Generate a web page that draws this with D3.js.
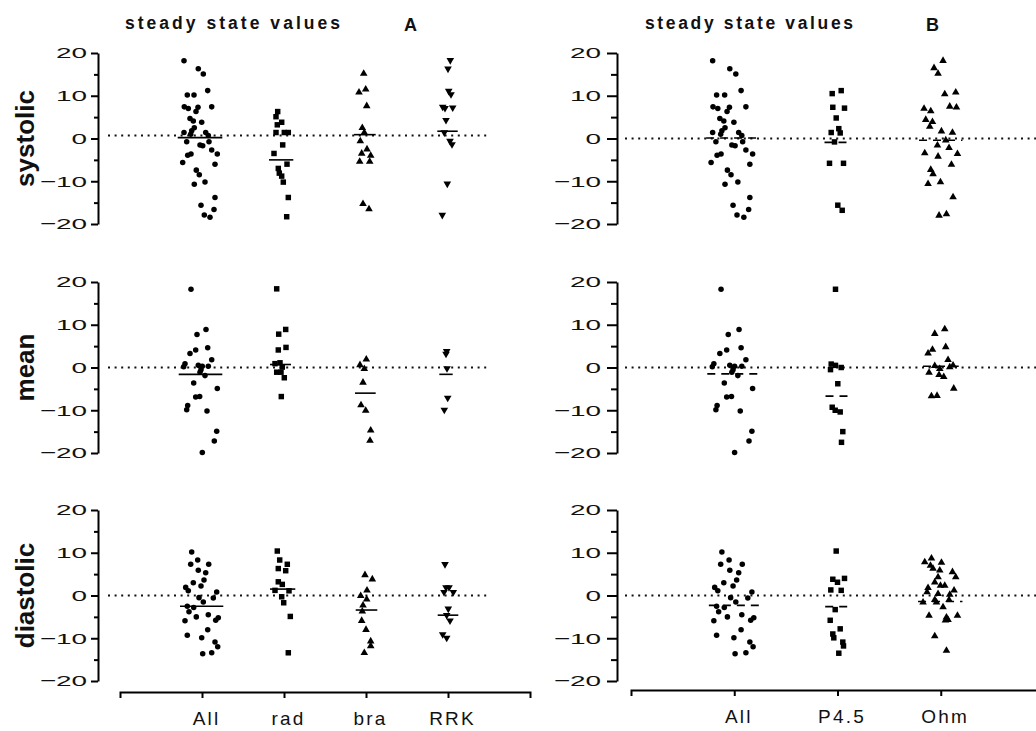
<!DOCTYPE html>
<meta charset="utf-8">
<script src="https://cdn.jsdelivr.net/npm/d3@7/dist/d3.min.js"></script>
<style>
    body { margin: 0; background: #fff; }
    svg { font-family: "Liberation Sans", Arial, sans-serif; }
</style>
<svg width="1036" height="731"></svg>
<script>

    // ---- data (value, horizontal jitter) ----
    var measures = ["systolic", "mean", "diastolic"];
    var groupsA = ["All", "rad", "bra", "RRK"];
    var groupsB = ["All", "P4.5", "Ohm"];
    var yTicks = [-20, -10, 0, 10, 20];
    var yMinor = [-15, -5, 5, 15];

    var sysAll = [[18.2,-18],[16.3,-3.7],[15.1,1.3],[11.2,5.7],[10.2,-14.7],[10.2,-8],[7.4,-17.7],[7.0,-13.7],[6.3,-6],[7.3,-4],[7.4,9.7],[4.7,-12],[4.1,-8.7],[3.8,-0.3],[2.5,-7.7],[1.8,-10.3],[1.4,-18],[1.4,3.7],[0.7,6.3],[1.0,-11.3],[-0.75,-15.3],[-1.5,-2],[-1.7,0.7],[-0.75,7],[-2.7,9.7],[-3.6,15.3],[-3.6,-11],[-3.9,-14.3],[-5.6,-19.3],[-6.0,13],[-7.4,-5.7],[-8.5,-2.7],[-10.7,-7.7],[-10.2,3],[-13.8,13],[-15.6,-1],[-16.6,12],[-17.9,2.3],[-18.4,8]];
    var sysRad = [[6.3,-6.3],[5.1,-8],[3.8,-2.3],[3.2,-6.7],[1.4,-8],[1.4,0.3],[1.4,4.3],[-1.5,-1.3],[-3.5,-10],[-6.0,3],[-7.0,-5.7],[-8.1,-4.7],[-8.8,-2.3],[-10.2,-0.7],[-13.8,4.3],[-18.3,2.7]];
    var sysBra = [[15.2,-2.3],[10.8,-7],[11.5,-0.3],[7.6,0.7],[2.5,-3.7],[1.4,-1.7],[-0.6,-5.7],[-2.5,1],[-3.5,-4.3],[-4.0,4.7],[-5.4,-6.3],[-5.4,3.7],[-15.3,-3],[-16.5,3]];
    var sysRRK = [[18.3,2.3],[16.3,0],[11.1,0.7],[10.3,3],[7.4,-5.3],[7.1,-3],[7.2,4.7],[4.3,-2],[1.4,-3.7],[-0.6,2],[-1.4,4],[-10.6,-0.7],[-17.9,-5.7]];
    var sysP45 = [[10.5,-5.3],[11.2,3.7],[7.3,-4.7],[7.1,7],[4.8,-1.3],[2.3,1.3],[1.4,-6.3],[1.3,2.7],[-0.8,-3],[-5.8,-8],[-5.8,6],[-15.6,0.3],[-16.8,4.7]];
    var sysOhm = [[18.2,2.3],[16.5,-6.7],[15.2,-2.7],[10.4,4],[10.8,15],[7.0,-16.7],[6.4,-10],[7.5,9],[7.3,15.7],[4.4,-15],[3.9,-8.3],[2.8,-11],[1.7,0.7],[1.4,11.7],[-1.6,-3.3],[-0.4,5],[-2.2,8.3],[-3.4,-16],[-4.2,-2.7],[-3.6,16.7],[-7.3,-10],[-8.3,-7.7],[-6.1,10.7],[-10.6,-12.7],[-10.2,-0.3],[-13.7,12.3],[-17.7,5.7],[-18.0,-1.7]];

    var meanAll = [[18.3,-11],[8.9,4],[7.7,-5],[4.6,5.7],[4.1,-6.3],[3.3,-12],[1.8,9.7],[0.9,-17],[0.2,-18.3],[0.5,-3.7],[0.3,0.3],[0.3,6.3],[-0.5,-1],[-1.9,3],[-1.1,-2],[-3.6,-8.3],[-4.9,15.3],[-6.9,-6.3],[-6.8,-2.3],[-8.9,-14.3],[-9.9,-15.3],[-10.2,5],[-14.9,14.7],[-17.2,12.3],[-19.9,0.3]];
    var meanRad = [[18.4,-7.3],[8.9,1.7],[7.8,-5.3],[4.7,2],[4.1,-5.7],[0.9,-9],[1.1,-4],[0.1,-1.7],[-1.1,-7.3],[-1.1,-3],[-2.4,0.3],[-6.8,-2.7]];
    var meanBra = [[1.9,0.3],[0.6,-6],[-0.3,-1.7],[-3.5,-3],[-8.8,-5],[-10.1,-0.3],[-14.7,4.7],[-17.1,4]];
    var meanRRK = [[3.8,-1.3],[3.2,-2],[-0.2,-1],[-7.1,-0.3],[-9.9,-3.7]];
    var meanP45 = [[18.3,-2],[0.8,-6.3],[0.5,-2],[0,3.7],[-0.5,-7],[-3.8,0.3],[-9.3,-5.3],[-10.0,-2.3],[-10.4,2.7],[-15.0,5.3],[-17.5,4]];
    var meanOhm = [[9.0,4],[7.9,-6],[4.8,5],[4.2,-8.3],[3.3,-12.7],[1.8,7.3],[0.4,-6],[-0.3,-1],[0.5,12.3],[0.1,9],[-1.2,-11.7],[-1.7,-1.7],[-2.2,3],[-4.9,13],[-6.7,-9.3],[-6.6,-3.7]];

    var diaAll = [[10.2,-10.3],[7.3,-11.3],[8.3,-4.3],[7.3,6.7],[5.9,-3.7],[5.3,3.7],[3.6,2],[2.2,-1],[1.9,-16.3],[3.0,-8.7],[1.1,-13.7],[0.8,14.7],[-0.6,11.3],[-0.5,-3],[-1.5,1.3],[-2.5,-14.7],[-2.8,-8.3],[-3.8,-13],[-4.5,6.3],[-5.2,16.3],[-5.0,-5.7],[-5.9,-17],[-5.8,13.7],[-8.0,5.7],[-9.3,-14.7],[-9.9,-0.3],[-10.9,13],[-12.0,15.7],[-13.6,0.7],[-13.4,9.7]];
    var diaRad = [[10.4,-6.7],[8.3,-4.3],[7.3,3.3],[6.3,-5.7],[5.8,1.7],[3.2,-5.7],[2.6,-1.7],[1.2,-9],[1.1,5],[-0.3,-2.3],[-1.7,-0.3],[-4.9,6.3],[-13.4,4.3]];
    var diaBra = [[4.8,-1],[3.8,6.3],[1.2,1],[-0.1,-5.3],[-0.9,0.7],[-2.3,-3],[-3.7,-3.7],[-5.9,-4.3],[-8.0,0],[-10.7,4.7],[-11.8,4.7],[-13.4,-1.7]];
    var diaRRK = [[7.3,-3],[1.9,-2],[1.9,1],[0.8,-4],[0.8,5.3],[-3.1,0.3],[-4.6,-1.3],[-5.9,2],[-9.1,-5.3],[-9.9,-1.3]];
    var diaP45 = [[10.4,-1.3],[3.8,-4.7],[3.1,0],[4.0,7],[1.3,-6.7],[1.2,3.7],[-3.3,-2.3],[-5.8,-7.3],[-7.8,2.7],[-9.0,-4.7],[-9.9,-3.7],[-10.9,5.3],[-11.8,6],[-13.5,1.3]];
    var diaOhm = [[8.7,-9.3],[7.8,-16],[7.7,0.7],[7.0,-10.3],[6.3,-7.7],[5.9,-1],[5.5,11.7],[4.3,15],[4.3,-2.7],[3.1,-6],[2.3,-0.3],[2.3,4],[1.8,-12.7],[0.8,-13.7],[1.2,13.3],[0.2,9],[0.4,-2.7],[-1.0,8.3],[-1.0,-6],[-1.6,-4.3],[-1.6,-17.7],[-2.7,2.3],[-4.7,-11.7],[-5.1,5.7],[-4.7,16.7],[-5.7,7.3],[-5.8,4.7],[-9.5,-6],[-12.9,5.7]];

    // group means (short horizontal bars), per measure, in group order
    var meansA = [[0.2, -5.0, 0.9, 1.7], [-1.6, 0.7, -6.0, -1.6], [-2.5, 1.5, -3.4, -4.6]];
    var meansB = [[0.1, -0.9, -0.4], [-1.5, -6.7, 0.3], [-2.3, -2.6, -1.4]];
    // dotted reference level per measure
    var refA = [0.7, 0, 0];
    var refB = [0, 0, 0];

    // ---- layout ----
    var svg = d3.select("svg");
    var rowTop = [53, 282, 510], rowH = 171;

    var panels = [
        {title: "A", groups: groupsA, axisX: 98, range: [120, 530], bottomY: 692, tick: 7, minor: 4, pad: 4,
            jit: {All: 1}, dash: null, refX: [108, 487], titleX: 125, titleW: 215, letterX: 404,
            series: [[sysAll, sysRad, sysBra, sysRRK], [meanAll, meanRad, meanBra, meanRRK], [diaAll, diaRad, diaBra, diaRRK]],
            means: meansA, ref: refA},
        {title: "B", groups: groupsB, axisX: 617, range: [631, 1044], bottomY: 690, tick: 10, minor: 6, pad: 6,
            jit: {All: 1.2}, dash: "8,6", refX: [625, 1036], titleX: 645, titleW: 208, letterX: 926,
            series: [[sysAll, sysP45, sysOhm], [meanAll, meanP45, meanOhm], [diaAll, diaP45, diaOhm]],
            means: meansB, ref: refB}
    ];

    var symbols = {
        "All": d3.symbol().type(d3.symbolCircle).size(24),
        "rad": d3.symbol().type(d3.symbolSquare).size(30),
        "P4.5": d3.symbol().type(d3.symbolSquare).size(30),
        "bra": d3.symbol().type(d3.symbolTriangle).size(25),
        "Ohm": d3.symbol().type(d3.symbolTriangle).size(25),
        "RRK": d3.symbol().type(d3.symbolTriangle).size(25)
    };

    panels.forEach(function (p) {
        var x = d3.scalePoint().domain(p.groups).range(p.range).padding(1);

        // titles
        svg.append("text")
            .attr("x", p.titleX).attr("y", 29)
            .attr("font-size", 17.5).attr("font-weight", "bold")
            .attr("fill", "#111")
            .attr("textLength", p.titleW).attr("lengthAdjust", "spacing")
            .text("steady state values");
        svg.append("text")
            .attr("x", p.letterX).attr("y", 31)
            .attr("font-size", 18).attr("font-weight", "bold")
            .attr("fill", "#111")
            .text(p.title);

        measures.forEach(function (m, mi) {
            var y = d3.scaleLinear().domain([-20, 20]).range([rowTop[mi] + rowH, rowTop[mi]]);
            var g = svg.append("g");

            // y axis, major ticks with labels
            var ax = g.append("g")
                .attr("transform", "translate(" + p.axisX + ",0)")
                .call(d3.axisLeft(y).tickValues(yTicks).tickSize(p.tick).tickSizeOuter(0).tickPadding(p.pad));
            ax.select(".domain").attr("stroke-width", 2);
            ax.selectAll(".tick line").attr("stroke-width", 2);
            ax.selectAll(".tick text")
                .attr("font-family", "'Liberation Sans', Arial, sans-serif")
                .attr("font-size", 15.5)
                .attr("fill", "#111")
                .attr("transform", function () {
                    var tx = +d3.select(this).attr("x");
                    d3.select(this).attr("x", 0);
                    return "translate(" + tx + ",0) scale(1.8,1)";
                });

            // minor ticks
            var mn = g.append("g")
                .attr("transform", "translate(" + p.axisX + ",0)")
                .call(d3.axisLeft(y).tickValues(yMinor).tickSize(p.minor).tickFormat(""));
            mn.select(".domain").remove();
            mn.selectAll(".tick line").attr("stroke-width", 2);

            // row label (only on left panel)
            if (p.title === "A") {
                svg.append("text")
                    .attr("transform", "translate(34," + y(0) + ") rotate(-90)")
                    .attr("text-anchor", "middle")
                    .attr("font-size", 26).attr("font-weight", "bold")
                    .attr("fill", "#111")
                    .text(m);
            }

            // dotted reference line
            g.append("line")
                .attr("x1", p.refX[0]).attr("x2", p.refX[1])
                .attr("y1", y(p.ref[mi])).attr("y2", y(p.ref[mi]))
                .attr("stroke", "#111").attr("stroke-width", 2)
                .attr("stroke-dasharray", "2,4.6");

            p.groups.forEach(function (grp, gi) {
                var pts = p.series[mi][gi];
                var k = p.jit[grp] || 1;
                var cx = x(grp);

                // points
                g.append("g").selectAll("path")
                    .data(pts)
                    .enter().append("path")
                    .attr("d", symbols[grp])
                    .attr("fill", "#000")
                    .attr("transform", function (d) {
                        return "translate(" + (cx + d[1] * k) + "," + y(d[0]) + ")" + (grp === "RRK" ? " rotate(180)" : "");
                    });

                // mean bar spanning the jittered column
                var ext = d3.extent(pts, function (d) { return d[1] * k; });
                g.append("line")
                    .attr("x1", cx + ext[0] - 5).attr("x2", cx + ext[1] + 5)
                    .attr("y1", y(p.means[mi][gi])).attr("y2", y(p.means[mi][gi]))
                    .attr("stroke", "#000").attr("stroke-width", 1.6)
                    .attr("stroke-dasharray", p.dash);
            });
        });

        // category axis at the bottom
        var bx = svg.append("g")
            .attr("transform", "translate(0," + p.bottomY + ")")
            .call(d3.axisBottom(x).tickSize(6).tickSizeOuter(6).tickPadding(14));
        bx.select(".domain").attr("stroke-width", 2);
        bx.selectAll(".tick line").attr("stroke-width", 2);
        bx.selectAll(".tick text")
            .attr("font-family", "'Liberation Sans', Arial, sans-serif")
            .attr("font-size", 19)
            .attr("letter-spacing", 2.2)
            .attr("dx", 4)
            .attr("fill", "#111");
    });

</script>
